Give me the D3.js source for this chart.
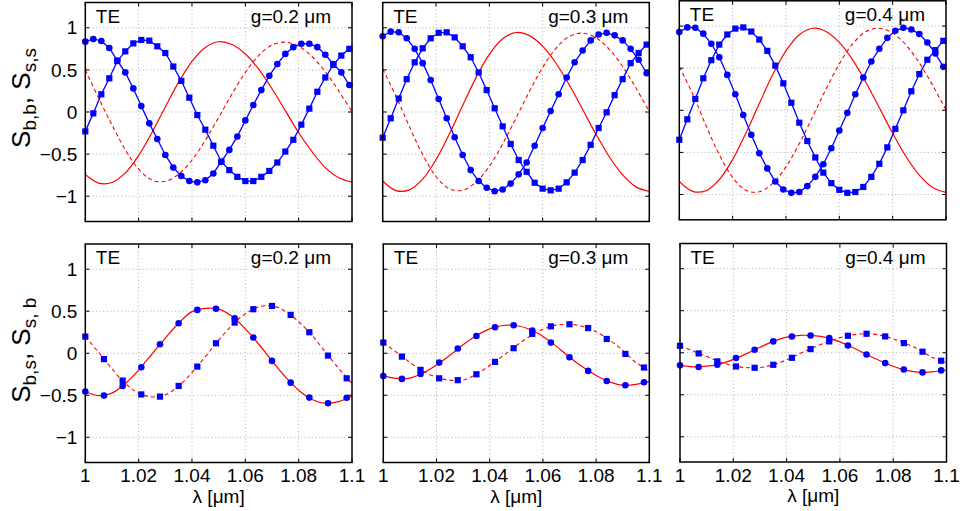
<!DOCTYPE html>
<html>
<head>
<meta charset="utf-8">
<script src="https://cdn.jsdelivr.net/npm/d3@7"></script>
<style>
  html, body { margin: 0; padding: 0; background: #fff; }
  svg { display: block; font-family: "Liberation Sans", Arial, Helvetica, sans-serif; }
</style>
</head>
<body>
<svg id="chart" width="967" height="511"></svg>
<script>
// ---------------- DATA ----------------
const gapLabels = ["g=0.2 μm", "g=0.3 μm", "g=0.4 μm"];
const modeLabel = "TE";
const xTicks = [1, 1.02, 1.04, 1.06, 1.08, 1.1];
const yTicks = [-1, -0.5, 0, 0.5, 1];

// wavelength samples (μm)
const lambdaFine = [1.000,1.005,1.010,1.015,1.020,1.025,1.030,1.035,1.040,1.045,1.050,
                    1.055,1.060,1.065,1.070,1.075,1.080,1.085,1.090,1.095,1.100];
const lambdaTop = [1.000,1.003,1.006,1.009,1.012,1.015,1.018,1.021,1.024,1.027,1.030,1.033,
                   1.036,1.039,1.042,1.045,1.048,1.051,1.054,1.057,1.060,1.063,1.066,1.069,
                   1.072,1.075,1.078,1.081,1.084,1.087,1.090,1.093,1.096,1.099];
const lambdaBottom = [1.000,1.007,1.014,1.021,1.028,1.035,1.042,1.049,1.056,1.063,1.070,
                      1.077,1.084,1.091,1.098];

// ---- top row: S_bb, S_ss ----
const topSolid_g02  = [-0.742,-0.844,-0.837,-0.723,-0.516,-0.243,0.060,0.355,0.602,0.767,0.834,0.801,0.689,0.508,0.276,0.016,-0.246,-0.47,-0.66,-0.78,-0.83];
const topDashed_g02 = [0.50,0.165,-0.153,-0.448,-0.678,-0.808,-0.823,-0.738,-0.570,-0.336,-0.065,0.214,0.469,0.670,0.795,0.829,0.780,0.659,0.478,0.251,0.002];
const topCircles_g02 = [0.835,0.867,0.843,0.76,0.61,0.47,0.28,0.07,-0.135,-0.32,-0.51,-0.66,-0.76,-0.82,-0.835,-0.81,-0.73,-0.59,-0.45,-0.29,-0.10,0.083,0.26,0.43,0.57,0.69,0.77,0.81,0.81,0.77,0.68,0.57,0.47,0.32];
const topSquares_g02 = [-0.23,-0.016,0.21,0.40,0.605,0.72,0.815,0.855,0.847,0.78,0.70,0.54,0.37,0.17,-0.036,-0.21,-0.40,-0.59,-0.69,-0.77,-0.82,-0.82,-0.77,-0.70,-0.60,-0.47,-0.33,-0.15,0.04,0.24,0.41,0.56,0.67,0.75];

const topSolid_g03  = [-0.819,-0.933,-0.925,-0.798,-0.566,-0.261,0.078,0.408,0.684,0.869,0.944,0.907,0.782,0.579,0.320,0.029,-0.264,-0.531,-0.747,-0.889,-0.944];
const topDashed_g03 = [0.51,0.186,-0.172,-0.506,-0.766,-0.912,-0.929,-0.833,-0.644,-0.379,-0.073,0.242,0.529,0.756,0.898,0.936,0.881,0.744,0.540,0.284,0.003];
const topCircles_g03 = [0.90,0.954,0.946,0.875,0.75,0.58,0.38,0.155,-0.075,-0.30,-0.51,-0.69,-0.82,-0.90,-0.94,-0.92,-0.85,-0.74,-0.60,-0.40,-0.19,0.012,0.21,0.41,0.59,0.73,0.85,0.92,0.94,0.91,0.85,0.75,0.62,0.46];
const topSquares_g03 = [-0.305,-0.075,0.16,0.39,0.59,0.756,0.875,0.94,0.946,0.886,0.78,0.65,0.47,0.26,0.044,-0.17,-0.38,-0.57,-0.71,-0.84,-0.91,-0.93,-0.91,-0.835,-0.72,-0.57,-0.39,-0.19,-0.004,0.20,0.39,0.58,0.70,0.80];

const topSolid_g04  = [-0.845,-0.962,-0.955,-0.823,-0.584,-0.269,0.081,0.421,0.706,0.897,0.974,0.936,0.806,0.598,0.331,0.030,-0.272,-0.548,-0.770,-0.917,-0.975];
const topDashed_g04 = [0.516,0.194,-0.180,-0.527,-0.797,-0.950,-0.967,-0.868,-0.671,-0.395,-0.076,0.252,0.551,0.788,0.935,0.975,0.917,0.775,0.562,0.296,0.003];
const topCircles_g04 = [0.93,0.984,0.98,0.91,0.79,0.63,0.42,0.19,-0.056,-0.29,-0.51,-0.69,-0.845,-0.94,-0.98,-0.97,-0.90,-0.79,-0.64,-0.45,-0.24,-0.03,0.19,0.39,0.58,0.73,0.86,0.944,0.98,0.96,0.905,0.805,0.675,0.516];
const topSquares_g04 = [-0.35,-0.107,0.135,0.38,0.595,0.78,0.90,0.97,0.984,0.935,0.84,0.706,0.53,0.32,0.09,-0.147,-0.365,-0.56,-0.74,-0.865,-0.944,-0.98,-0.97,-0.91,-0.79,-0.635,-0.44,-0.22,0,0.226,0.43,0.60,0.714,0.825];

// ---- bottom row: S_bs, S_sb ----
const botSolid_g02  = [-0.456,-0.505,-0.475,-0.36,-0.20,-0.01,0.18,0.357,0.495,0.535,0.525,0.44,0.29,0.11,-0.091,-0.28,-0.44,-0.55,-0.595,-0.575,-0.51];
const botDashed_g02 = [0.198,0.01,-0.185,-0.36,-0.475,-0.52,-0.495,-0.389,-0.23,-0.04,0.155,0.335,0.47,0.55,0.563,0.50,0.375,0.215,0.015,-0.18,-0.36];
const botCircles_g02 = [-0.456,-0.504,-0.39,-0.167,0.107,0.357,0.516,0.53,0.417,0.187,-0.091,-0.35,-0.528,-0.595,-0.53];
const botSquares_g02 = [0.198,-0.07,-0.325,-0.49,-0.516,-0.389,-0.159,0.119,0.365,0.524,0.563,0.456,0.25,-0.028,-0.298];

const botSolid_g03  = [-0.27,-0.30,-0.295,-0.235,-0.14,-0.025,0.10,0.21,0.29,0.33,0.33,0.285,0.20,0.085,-0.048,-0.165,-0.265,-0.34,-0.38,-0.37,-0.335];
const botDashed_g03 = [0.127,0.01,-0.11,-0.215,-0.285,-0.32,-0.318,-0.25,-0.145,-0.03,0.09,0.2,0.285,0.335,0.345,0.318,0.255,0.16,0.035,-0.11,-0.21];
const botCircles_g03 = [-0.27,-0.305,-0.246,-0.111,0.056,0.206,0.31,0.333,0.27,0.127,-0.048,-0.21,-0.33,-0.38,-0.345];
const botSquares_g03 = [0.127,-0.04,-0.198,-0.298,-0.32,-0.25,-0.103,0.06,0.23,0.32,0.345,0.30,0.17,-0.008,-0.17];

const botSolid_g04  = [-0.15,-0.168,-0.16,-0.135,-0.08,-0.01,0.065,0.135,0.185,0.207,0.203,0.18,0.13,0.06,-0.02,-0.095,-0.16,-0.21,-0.233,-0.225,-0.205];
const botDashed_g04 = [0.083,0.02,-0.045,-0.11,-0.155,-0.177,-0.176,-0.143,-0.085,-0.01,0.06,0.125,0.18,0.214,0.226,0.21,0.165,0.105,0.03,-0.06,-0.115];
const botCircles_g04 = [-0.15,-0.17,-0.143,-0.063,0.036,0.135,0.194,0.206,0.175,0.087,-0.02,-0.123,-0.20,-0.234,-0.21];
const botSquares_g04 = [0.083,-0.008,-0.103,-0.163,-0.179,-0.143,-0.06,0.044,0.135,0.202,0.226,0.194,0.115,0.012,-0.095];

// ---------------- LAYOUT ----------------
const svg = d3.select("#chart");
const RED = "#ff0000", BLUE = "#0000ff";
const FONT = 19;

const panels = [
  // top row
  {row:0, col:0, box:[85.3,352,2.5,221.5], solid:topSolid_g02, dashed:topDashed_g02, circles:topCircles_g02, squares:topSquares_g02},
  {row:0, col:1, box:[382.7,649.3,2.5,221.5], solid:topSolid_g03, dashed:topDashed_g03, circles:topCircles_g03, squares:topSquares_g03},
  {row:0, col:2, box:[679.3,946,0.8,219.8], solid:topSolid_g04, dashed:topDashed_g04, circles:topCircles_g04, squares:topSquares_g04},
  // bottom row
  {row:1, col:0, box:[85.3,352,244,462.5], solid:botSolid_g02, dashed:botDashed_g02, circles:botCircles_g02, squares:botSquares_g02},
  {row:1, col:1, box:[383.3,649.3,244,462.5], solid:botSolid_g03, dashed:botDashed_g03, circles:botCircles_g03, squares:botSquares_g03},
  {row:1, col:2, box:[680,946.5,243.5,462], solid:botSolid_g04, dashed:botDashed_g04, circles:botCircles_g04, squares:botSquares_g04}
];

panels.forEach(p => {
  const [x0, x1, y0, y1] = p.box;
  const x = d3.scaleLinear().domain([1, 1.1]).range([x0, x1]);
  const y = d3.scaleLinear().domain([-1.3, 1.3]).range([y1, y0]);
  const g = svg.append("g");

  g.append("rect").attr("x", x0).attr("y", y0).attr("width", x1 - x0).attr("height", y1 - y0).attr("fill", "#fff");

  // grid
  const grid = g.append("g").attr("stroke", "#9a9a9a").attr("stroke-width", 0.8).attr("stroke-dasharray", "1,2.6");
  xTicks.slice(1, -1).forEach(t => {
    grid.append("line").attr("x1", x(t)).attr("x2", x(t)).attr("y1", y0).attr("y2", y1);
  });
  yTicks.forEach(t => {
    grid.append("line").attr("x1", x0).attr("x2", x1).attr("y1", y(t)).attr("y2", y(t));
  });

  const clipId = "clip" + p.row + p.col;
  g.append("clipPath").attr("id", clipId).append("rect")
    .attr("x", x0).attr("y", y0).attr("width", x1 - x0).attr("height", y1 - y0);

  const curve = d3.line().x(d => x(d[0])).y(d => y(d[1])).curve(d3.curveCatmullRom.alpha(0.5));
  const poly = d3.line().x(d => x(d[0])).y(d => y(d[1]));

  const plot = g.append("g").attr("clip-path", `url(#${clipId})`);
  plot.append("path").datum(d3.zip(lambdaFine, p.dashed))
    .attr("d", curve).attr("fill", "none").attr("stroke", RED).attr("stroke-width", 1.1)
    .attr("stroke-dasharray", "4,3");
  plot.append("path").datum(d3.zip(lambdaFine, p.solid))
    .attr("d", curve).attr("fill", "none").attr("stroke", RED).attr("stroke-width", 1.2);

  const mx = p.row === 0 ? lambdaTop : lambdaBottom;
  const circ = d3.zip(mx, p.circles);
  const sq = d3.zip(mx, p.squares);
  if (p.row === 0) {
    g.append("path").datum(circ).attr("d", poly).attr("fill", "none").attr("stroke", BLUE).attr("stroke-width", 1.3);
    g.append("path").datum(sq).attr("d", poly).attr("fill", "none").attr("stroke", BLUE).attr("stroke-width", 1.3);
  }
  const ms = 6.2;
  g.append("g").selectAll("rect").data(sq).join("rect")
    .attr("x", d => x(d[0]) - ms / 2).attr("y", d => y(d[1]) - ms / 2)
    .attr("width", ms).attr("height", ms).attr("fill", BLUE);
  g.append("g").selectAll("circle").data(circ).join("circle")
    .attr("cx", d => x(d[0])).attr("cy", d => y(d[1])).attr("r", 3.3).attr("fill", BLUE);

  // box
  g.append("rect").attr("x", x0).attr("y", y0).attr("width", x1 - x0).attr("height", y1 - y0)
    .attr("fill", "none").attr("stroke", "#000").attr("stroke-width", 1.5);

  // inward ticks on all sides
  const tk = g.append("g").attr("stroke", "#000").attr("stroke-width", 1);
  const tl = 4;
  xTicks.forEach(t => {
    tk.append("line").attr("x1", x(t)).attr("x2", x(t)).attr("y1", y1).attr("y2", y1 - tl);
    tk.append("line").attr("x1", x(t)).attr("x2", x(t)).attr("y1", y0).attr("y2", y0 + tl);
  });
  yTicks.forEach(t => {
    tk.append("line").attr("x1", x0).attr("x2", x0 + tl).attr("y1", y(t)).attr("y2", y(t));
    tk.append("line").attr("x1", x1).attr("x2", x1 - tl).attr("y1", y(t)).attr("y2", y(t));
  });

  // tick labels
  if (p.col === 0) {
    const fmt = d3.format("");
    g.append("g").selectAll("text").data(yTicks).join("text")
      .attr("x", x0 - 8).attr("y", d => y(d)).attr("dy", "0.35em")
      .attr("text-anchor", "end").attr("font-size", FONT).attr("fill", "#000")
      .text(d => d < 0 ? "\u2212" + fmt(-d) : fmt(d));
  }
  if (p.row === 1) {
    g.append("g").selectAll("text").data(xTicks).join("text")
      .attr("x", d => x(d)).attr("y", y1 + 19.5)
      .attr("text-anchor", "middle").attr("font-size", FONT).attr("fill", "#000")
      .text(d => d3.format("")(d));
    g.append("text").attr("x", (x0 + x1) / 2).attr("y", y1 + 40)
      .attr("text-anchor", "middle").attr("font-size", FONT).attr("fill", "#000")
      .text("λ [μm]");
  }

  // in-panel labels
  g.append("text").attr("x", x0 + 10.5).attr("y", y0 + 20).attr("font-size", FONT).attr("fill", "#000").text(modeLabel);
  g.append("text").attr("x", x1 - 21).attr("y", y0 + 20).attr("text-anchor", "end")
    .attr("font-size", FONT).attr("fill", "#000").text(gapLabels[p.col]);

  // y-axis label (left column)
  if (p.col === 0) {
    const subs = p.row === 0 ? ["b,b", "s,s"] : ["b,s", "s, b"];
    const cy = (y0 + y1) / 2 - (p.row === 0 ? 14 : 3);
    const t = g.append("text")
      .attr("transform", `translate(30,${cy}) rotate(-90)`)
      .attr("text-anchor", "middle").attr("fill", "#000").attr("xml:space", "preserve");
    t.append("tspan").attr("font-size", 26).text("S");
    t.append("tspan").attr("font-size", 19).attr("dy", 6).text(subs[0]);
    t.append("tspan").attr("font-size", 26).attr("dy", -6).text(", S");
    t.append("tspan").attr("font-size", 19).attr("dy", 6).text(subs[1]);
  }
});
</script>
</body>
</html>
